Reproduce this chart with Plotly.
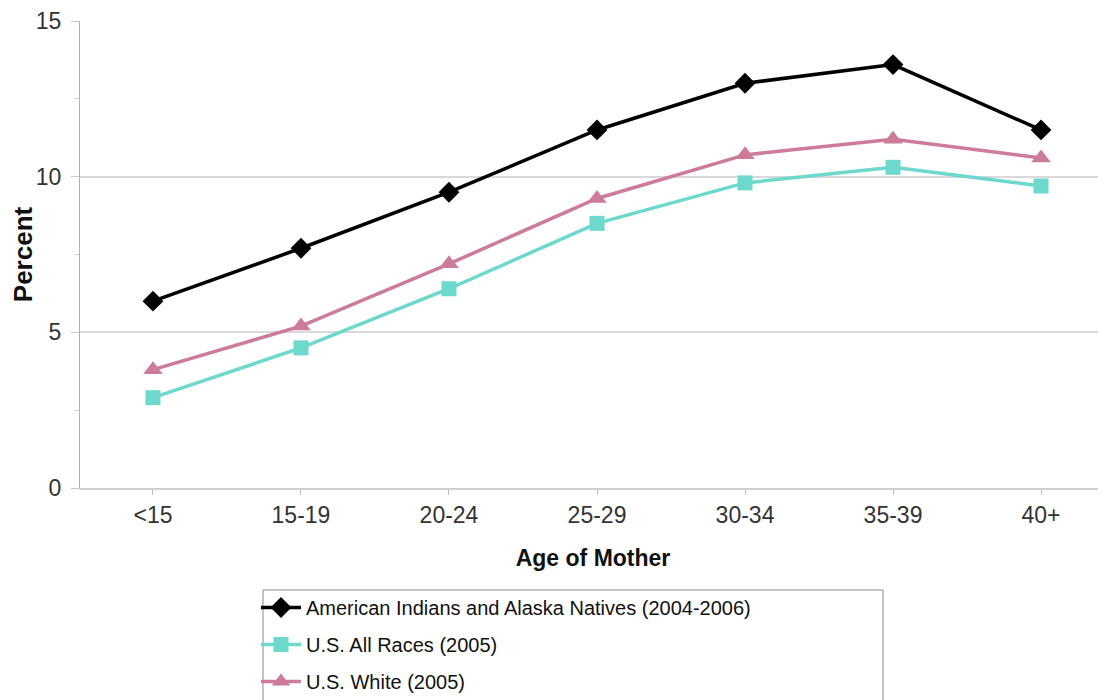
import plotly.graph_objects as go

categories = ["<15", "15-19", "20-24", "25-29", "30-34", "35-39", "40+"]
aian = [6.0, 7.7, 9.5, 11.5, 13.0, 13.6, 11.5]
all_races = [2.9, 4.5, 6.4, 8.5, 9.8, 10.3, 9.7]
white = [3.8, 5.2, 7.2, 9.3, 10.7, 11.2, 10.6]
names = ["American Indians and Alaska Natives (2004-2006)",
         "U.S. All Races (2005)",
         "U.S. White (2005)"]

FONT = "Liberation Sans, Arial, sans-serif"
OFF = 8  # page body margin
W, H = 1106 - OFF, 700 - OFF
L, R, T, B = 80 - OFF, 0, 21 - OFF, H - (488 - OFF)
PW, PH = W - L - R, H - T - B

fig = go.Figure()
specs = [
    (aian, names[0], "#000000", "diamond", 16),
    (all_races, names[1], "#6dd8cc", "square", 15),
    (white, names[2], "#cc7b9b", "triangle-up", 17),
]
for i, (vals, nm, col, sym, sz) in enumerate(specs):
    fig.add_trace(go.Scatter(
        x=list(range(len(categories))), y=vals, name=nm, mode="lines+markers",
        line=dict(color=col, width=3.5),
        marker=dict(symbol=sym, size=sz, color=col, line=dict(width=0)),
        legendgroup=f"g{i}",
    ))

# screen pixel -> paper coordinates
def px_x(px):
    return (px - OFF - L) / PW

def px_y(py):
    return (H - B - (py - OFF)) / PH

fig.add_shape(type="rect", xref="paper", yref="paper",
              x0=px_x(263), x1=px_x(883), y0=px_y(720), y1=px_y(590),
              line=dict(color="#8a8a8a", width=1), fillcolor="rgba(0,0,0,0)", layer="above")

fig.update_layout(
    width=W, height=H,
    margin=dict(l=L, r=R, t=T, b=B, autoexpand=False),
    paper_bgcolor="white", plot_bgcolor="white",
    font=dict(family=FONT, color="#222222"),
    showlegend=True,
    legend=dict(
        xref="paper", yref="paper",
        x=px_x(256), y=px_y(588), xanchor="left", yanchor="top",
        borderwidth=0, bgcolor="rgba(0,0,0,0)",
        font=dict(size=20, family=FONT, color="#111111"),
        tracegroupgap=8,
        itemwidth=40,
    ),
    xaxis=dict(
        tickmode="array", tickvals=list(range(len(categories))), ticktext=categories,
        range=[-0.493, 6.439], tickangle=0,
        showgrid=False, zeroline=False,
        showline=True, linecolor="#d0d0d0", linewidth=2,
        ticks="outside", ticklen=5, tickcolor="#bfbfbf", tickwidth=1,
        tickfont=dict(size=23, color="#333333"),
        title=dict(text="<b>Age of Mother</b>", font=dict(size=23, color="#111111"), standoff=23),
    ),
    yaxis=dict(
        range=[0, 15], tickvals=[0, 5, 10, 15],
        showgrid=True, gridcolor="#d9d9d9", gridwidth=2,
        zeroline=False,
        showline=True, linecolor="#b0b0b0", linewidth=1,
        ticks="outside", ticklen=8, tickcolor="#c8c8c8",
        ticklabelstandoff=5,
        minor=dict(tickvals=[2.5, 7.5, 12.5], ticks="outside", ticklen=4, tickcolor="#c8c8c8", showgrid=False),
        tickfont=dict(size=23, color="#333333"),
        title=dict(text="<b>Percent</b>", font=dict(size=26, color="#111111"), standoff=6),
    ),
)

fig.write_html("out.html")
